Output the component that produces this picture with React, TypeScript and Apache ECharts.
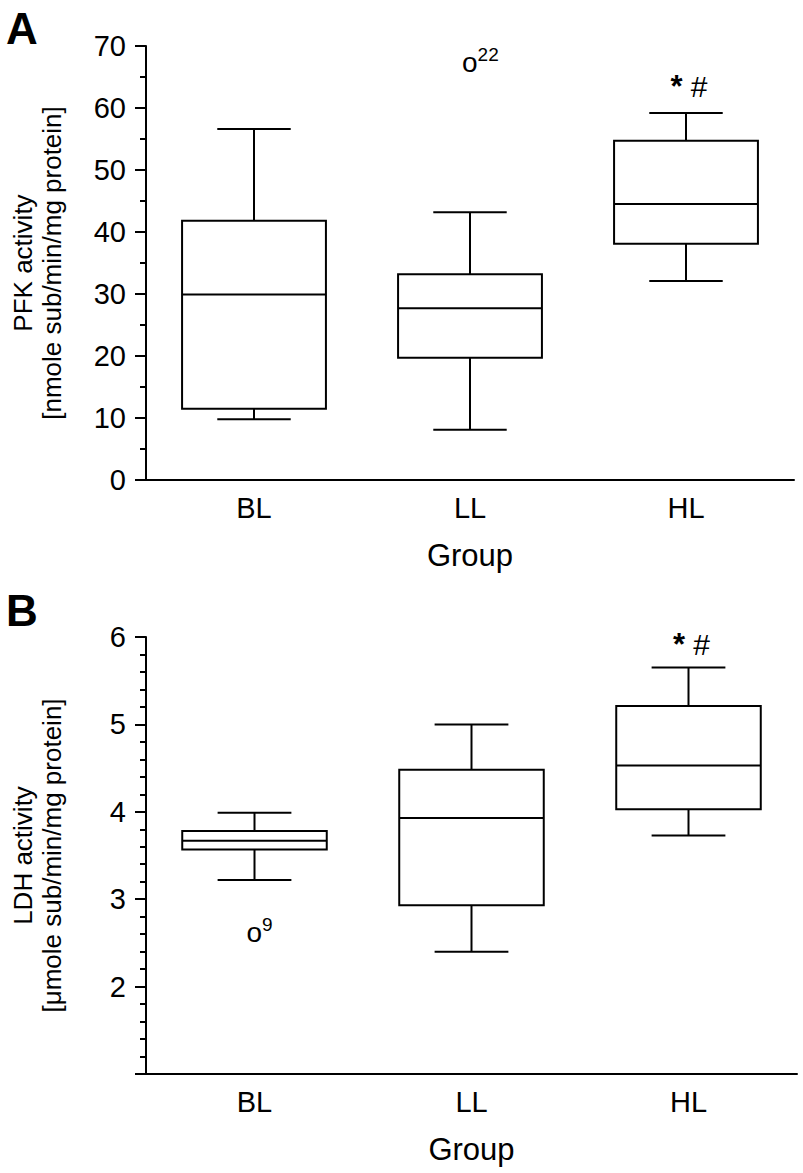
import React, { useEffect, useRef } from "react";
import * as echarts from "echarts";

const categories = ["BL", "LL", "HL"];

// Panel A: PFK activity (box statistics)
const pfkMin = [9.8, 8.1, 32.1];
const pfkQ1 = [11.5, 19.7, 38.1];
const pfkMedian = [29.9, 27.7, 44.5];
const pfkQ3 = [41.8, 33.2, 54.7];
const pfkMax = [56.6, 43.2, 59.2];
const pfkOutlier = { cat: 1, value: 67.6, id: "22" };
const pfkSignificance = { cat: 2, value: 63.5 };

// Panel B: LDH activity (box statistics)
const ldhMin = [3.22, 2.4, 3.73];
const ldhQ1 = [3.57, 2.93, 4.03];
const ldhMedian = [3.67, 3.93, 4.53];
const ldhQ3 = [3.78, 4.48, 5.21];
const ldhMax = [3.99, 5.0, 5.65];
const ldhOutlier = { cat: 0, value: 2.64, id: "9" };
const ldhSignificance = { cat: 2, value: 5.91 };

const FONT = "'Liberation Sans', Arial, Helvetica, sans-serif";
const TICK_FS = 29;

function boxData(mn: number[], q1: number[], md: number[], q3: number[], mx: number[]) {
  return categories.map((_, i) => [i, mn[i], q1[i], md[i], q3[i], mx[i]]);
}

function renderBox(params: any, api: any) {
  const idx = api.value(0);
  const x = api.coord([idx, api.value(1)])[0];
  const yMin = api.coord([idx, api.value(1)])[1];
  const yQ1 = api.coord([idx, api.value(2)])[1];
  const yMed = api.coord([idx, api.value(3)])[1];
  const yQ3 = api.coord([idx, api.value(4)])[1];
  const yMax = api.coord([idx, api.value(5)])[1];
  const band = api.size([1, 0])[0];
  const hw = band * 0.333;
  const cw = band * 0.17;
  const ls = { stroke: "#000", lineWidth: 2 };
  return {
    type: "group",
    children: [
      { type: "line", shape: { x1: x, y1: yMax, x2: x, y2: yQ3 }, style: ls },
      { type: "line", shape: { x1: x, y1: yQ1, x2: x, y2: yMin }, style: ls },
      { type: "line", shape: { x1: x - cw, y1: yMax, x2: x + cw, y2: yMax }, style: ls },
      { type: "line", shape: { x1: x - cw, y1: yMin, x2: x + cw, y2: yMin }, style: ls },
      {
        type: "rect",
        shape: { x: x - hw, y: yQ3, width: 2 * hw, height: yQ1 - yQ3 },
        style: { fill: "#fff", stroke: "#000", lineWidth: 2 },
      },
      { type: "line", shape: { x1: x - hw, y1: yMed, x2: x + hw, y2: yMed }, style: ls },
    ],
  };
}

function xAxisCfg(gridIndex: number) {
  return {
    type: "category",
    gridIndex,
    data: categories,
    boundaryGap: true,
    name: "Group",
    nameLocation: "middle",
    nameGap: 60,
    nameTextStyle: { fontSize: 31, color: "#000", fontFamily: FONT },
    axisLine: { lineStyle: { color: "#000", width: 2 } },
    axisTick: { alignWithLabel: true, length: 11, lineStyle: { color: "#000", width: 2 } },
    axisLabel: { fontSize: TICK_FS, color: "#000", fontFamily: FONT, margin: 13 },
    splitLine: { show: false },
  };
}

function yAxisCfg(gridIndex: number, name: string, min: number, max: number, interval: number, minorSplit: number, hideFirst: boolean) {
  return {
    type: "value",
    gridIndex,
    min,
    max,
    interval,
    name,
    nameLocation: "middle",
    nameRotate: 90,
    nameGap: 80,
    nameTextStyle: { fontSize: 26, lineHeight: 29, color: "#000", fontFamily: FONT, align: "center" },
    axisLine: { show: true, lineStyle: { color: "#000", width: 2 } },
    axisTick: { show: true, length: 11, lineStyle: { color: "#000", width: 2 } },
    minorTick: { show: true, splitNumber: minorSplit, length: 6, lineStyle: { color: "#000", width: 2 } },
    axisLabel: {
      fontSize: TICK_FS,
      color: "#000",
      fontFamily: FONT,
      margin: 20,
      formatter: (v: number) => (hideFirst && v === min ? "" : String(v)),
    },
    splitLine: { show: false },
  };
}

function outlierSeries(xi: number, yi: number, o: { cat: number; value: number; id: string }) {
  return {
    type: "scatter",
    xAxisIndex: xi,
    yAxisIndex: yi,
    symbolSize: 0,
    silent: true,
    itemStyle: { opacity: 1 },
    data: [[o.cat, o.value]],
    label: {
      show: true,
      color: "#000",
      position: [0, 0],
      align: "left",
      verticalAlign: "middle",
      offset: [-8, 0],
      formatter: () => "{o|o}{s|" + o.id + "}",
      rich: {
        o: { fontSize: 28, color: "#000", fontFamily: FONT, lineHeight: 32, verticalAlign: "bottom" },
        s: { fontSize: 19, color: "#000", fontFamily: FONT, lineHeight: 32, verticalAlign: "top" },
      },
    },
  };
}

function sigSeries(xi: number, yi: number, s: { cat: number; value: number }) {
  return {
    type: "scatter",
    xAxisIndex: xi,
    yAxisIndex: yi,
    symbolSize: 0,
    silent: true,
    itemStyle: { opacity: 1 },
    data: [[s.cat, s.value]],
    label: {
      show: true,
      color: "#000",
      position: "inside",
      offset: [3, 0],
      formatter: () => "{a|*}{h| #}",
      rich: {
        a: { fontSize: 31, fontWeight: "bold", color: "#000", fontFamily: FONT },
        h: { fontSize: 30, color: "#000", fontFamily: FONT },
      },
    },
  };
}

export default function App() {
  const ref = useRef<HTMLDivElement>(null);
  useEffect(() => {
    if (!ref.current) return;
    const chart = echarts.init(ref.current, undefined, { renderer: "svg" });
    chart.setOption({
      animation: false,
      backgroundColor: "#fff",
      textStyle: { fontFamily: FONT },
      grid: [
        { left: 143, top: 46, width: 651, height: 434 },
        { left: 143, top: 637, width: 654, height: 437 },
      ],
      xAxis: [xAxisCfg(0), xAxisCfg(1)],
      yAxis: [
        yAxisCfg(0, "PFK activity\n[nmole sub/min/mg protein]", 0, 70, 10, 2, false),
        yAxisCfg(1, "LDH activity\n[μmole sub/min/mg protein]", 1, 6, 1, 5, true),
      ],
      graphic: [
        { type: "text", left: 6, top: 6, style: { text: "A", fontSize: 44, fontWeight: "bold", fill: "#000", fontFamily: FONT } },
        { type: "text", left: 6, top: 588, style: { text: "B", fontSize: 44, fontWeight: "bold", fill: "#000", fontFamily: FONT } },
      ],
      series: [
        {
          type: "custom",
          xAxisIndex: 0,
          yAxisIndex: 0,
          renderItem: renderBox,
          encode: { x: 0, y: [1, 2, 3, 4, 5] },
          data: boxData(pfkMin, pfkQ1, pfkMedian, pfkQ3, pfkMax),
          silent: true,
        },
        {
          type: "custom",
          xAxisIndex: 1,
          yAxisIndex: 1,
          renderItem: renderBox,
          encode: { x: 0, y: [1, 2, 3, 4, 5] },
          data: boxData(ldhMin, ldhQ1, ldhMedian, ldhQ3, ldhMax),
          silent: true,
        },
        outlierSeries(0, 0, pfkOutlier),
        sigSeries(0, 0, pfkSignificance),
        outlierSeries(1, 1, ldhOutlier),
        sigSeries(1, 1, ldhSignificance),
      ],
    });
    return () => chart.dispose();
  }, []);
  return <div ref={ref} style={{ position: "absolute", left: 0, top: 0, width: 803, height: 1173 }} />;
}
